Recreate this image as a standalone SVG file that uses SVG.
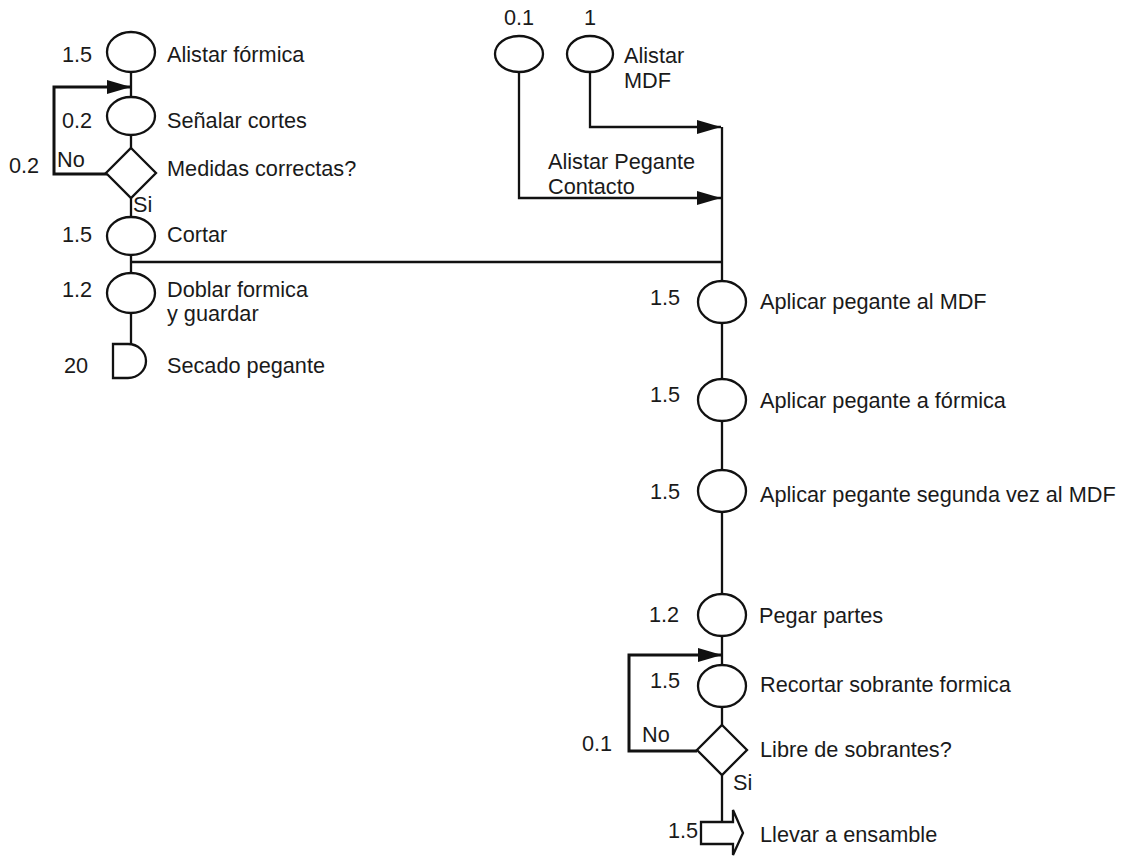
<svg xmlns="http://www.w3.org/2000/svg" width="1126" height="857" viewBox="0 0 1126 857">
  <defs>
    <style>
      text { font-family: "Liberation Sans", Arial, sans-serif; font-size: 21.7px; fill: #1a1a1a; }
      .shape { fill: #fff; stroke: #111; stroke-width: 2.3; }
      .line { fill: none; stroke: #111; stroke-width: 2.3; }
      .loop { fill: none; stroke: #111; stroke-width: 3; }
      .mid { text-anchor: middle; }
    </style>
    <marker id="arrowBig" viewBox="0 0 10 10" refX="10" refY="5" markerWidth="24" markerHeight="14" markerUnits="userSpaceOnUse" orient="auto" preserveAspectRatio="none">
      <path d="M0,0 L10,5 L0,10 z" fill="#111"/>
    </marker>
  </defs>

  <!-- connectors -->
  <g id="connectors">
    <!-- left column spine -->
    <line class="line" x1="131" y1="72" x2="131" y2="344"/>
    <!-- rework loop: Medidas correctas? No -> Señalar cortes -->
    <polyline class="loop" points="107,174 54,174 54,87 131,87" marker-end="url(#arrowBig)"/>
    <!-- join from Cortar to right column -->
    <line class="line" x1="131" y1="262" x2="722" y2="262"/>
    <!-- Alistar MDF feed -->
    <polyline class="line" points="590,72 590,127 721,127" marker-end="url(#arrowBig)"/>
    <!-- Alistar Pegante Contacto feed -->
    <polyline class="line" points="519,72 519,198 721,198" marker-end="url(#arrowBig)"/>
    <!-- right column spine -->
    <line class="line" x1="722" y1="127" x2="722" y2="822"/>
    <!-- rework loop: Libre de sobrantes? No -> Recortar -->
    <polyline class="loop" points="697,751 629,751 629,655 722,655" marker-end="url(#arrowBig)"/>
  </g>

  <!-- left column -->
  <g id="alistar-formica">
    <ellipse class="shape" cx="131" cy="52" rx="24" ry="20"/>
    <text x="62" y="62">1.5</text>
    <text x="167" y="62">Alistar fórmica</text>
  </g>
  <g id="senalar-cortes">
    <ellipse class="shape" cx="131" cy="116" rx="24" ry="19"/>
    <text x="62" y="128">0.2</text>
    <text x="167" y="128">Señalar cortes</text>
  </g>
  <g id="medidas-correctas">
    <polygon class="shape" points="131,148 156,173 131,198 106,173"/>
    <text x="9" y="173">0.2</text>
    <text x="57" y="167">No</text>
    <text x="167" y="176">Medidas correctas?</text>
    <text x="133" y="212">Si</text>
  </g>
  <g id="cortar">
    <ellipse class="shape" cx="131" cy="236" rx="24" ry="19"/>
    <text x="62" y="242">1.5</text>
    <text x="167" y="242">Cortar</text>
  </g>
  <g id="doblar-formica">
    <ellipse class="shape" cx="131" cy="293" rx="24" ry="20"/>
    <text x="62" y="297">1.2</text>
    <text x="167" y="297">Doblar formica</text>
    <text x="167" y="321">y guardar</text>
  </g>
  <g id="secado-pegante">
    <path class="shape" d="M113,344 H128 A18,17 0 0 1 128,378 H113 Z"/>
    <text x="64" y="373">20</text>
    <text x="167" y="373">Secado pegante</text>
  </g>

  <!-- top feeds -->
  <g id="alistar-pegante">
    <ellipse class="shape" cx="519" cy="54" rx="24" ry="18"/>
    <text class="mid" x="519" y="25">0.1</text>
    <text x="548" y="169">Alistar Pegante</text>
    <text x="548" y="194">Contacto</text>
  </g>
  <g id="alistar-mdf">
    <ellipse class="shape" cx="590" cy="54" rx="23" ry="18"/>
    <text class="mid" x="590" y="25">1</text>
    <text x="624" y="63">Alistar</text>
    <text x="624" y="88">MDF</text>
  </g>

  <!-- right column -->
  <g id="aplicar-mdf">
    <ellipse class="shape" cx="722" cy="302" rx="24" ry="21"/>
    <text x="650" y="305">1.5</text>
    <text x="760" y="309">Aplicar pegante al MDF</text>
  </g>
  <g id="aplicar-formica">
    <ellipse class="shape" cx="722" cy="400" rx="24" ry="21"/>
    <text x="650" y="402">1.5</text>
    <text x="760" y="408">Aplicar pegante a fórmica</text>
  </g>
  <g id="aplicar-segunda">
    <ellipse class="shape" cx="722" cy="491" rx="24" ry="21"/>
    <text x="650" y="499">1.5</text>
    <text x="760" y="502">Aplicar pegante segunda vez al MDF</text>
  </g>
  <g id="pegar-partes">
    <ellipse class="shape" cx="722" cy="615" rx="24" ry="21"/>
    <text x="649" y="622">1.2</text>
    <text x="759" y="623">Pegar partes</text>
  </g>
  <g id="recortar-sobrante">
    <ellipse class="shape" cx="722" cy="686" rx="24" ry="21"/>
    <text x="650" y="688">1.5</text>
    <text x="760" y="692">Recortar sobrante formica</text>
  </g>
  <g id="libre-sobrantes">
    <polygon class="shape" points="722,725 747,750 722,775 697,750"/>
    <text x="582" y="751">0.1</text>
    <text x="642" y="742">No</text>
    <text x="760" y="757">Libre de sobrantes?</text>
    <text x="733" y="790">Si</text>
  </g>
  <g id="llevar-ensamble">
    <path class="shape" d="M701,822 H733 V810 L743,833 L733,855 V844 H701 Z"/>
    <text x="668" y="838">1.5</text>
    <text x="760" y="842">Llevar a ensamble</text>
  </g>
</svg>
